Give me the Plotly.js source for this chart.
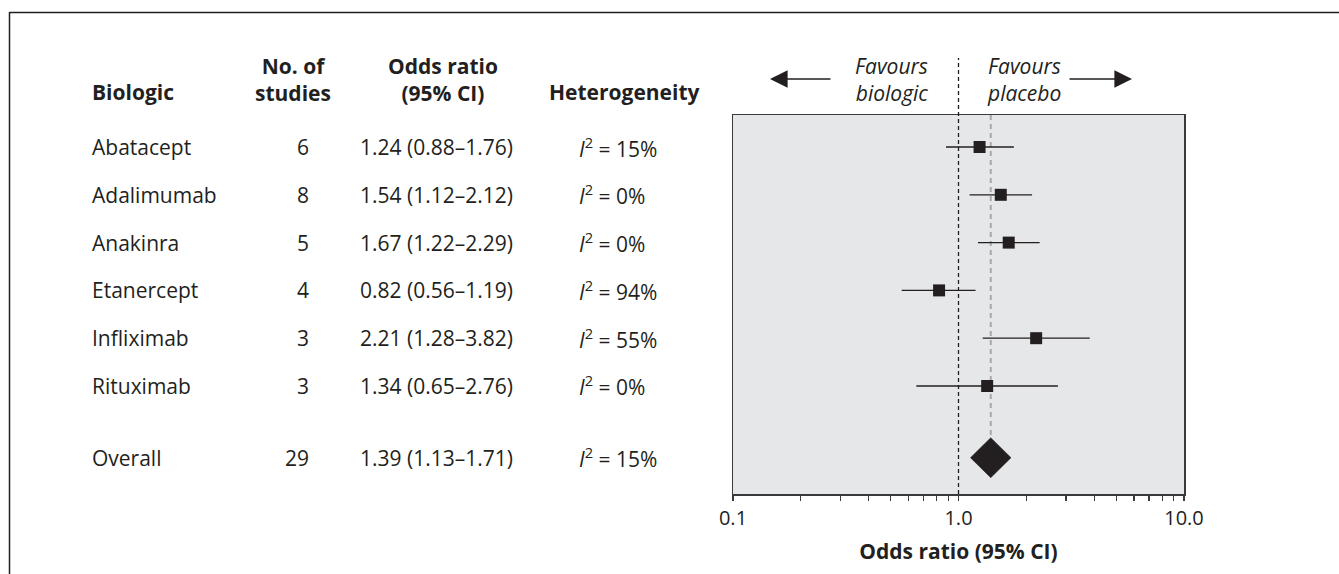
<!DOCTYPE html>
<html>
<head>
<meta charset="utf-8">
<script src="https://cdn.plot.ly/plotly-3.0.1.min.js"></script>
<style>html,body{margin:0;padding:0;background:#fff;}#chart{width:1339px;height:574px;}</style>
</head>
<body>
<div id="chart"></div>
<script>
// ---- data ----
const biologics = ['Abatacept','Adalimumab','Anakinra','Etanercept','Infliximab','Rituximab'];
const studies = [6, 8, 5, 4, 3, 3];
const oddsRatio = [1.24, 1.54, 1.67, 0.82, 2.21, 1.34];
const ciLow = [0.88, 1.12, 1.22, 0.56, 1.28, 0.65];
const ciHigh = [1.76, 2.12, 2.29, 1.19, 3.82, 2.76];
const i2 = [15, 0, 0, 94, 55, 0];
const overallName = 'Overall';
const overallStudies = 29;
const overallOR = 1.39;
const overallLow = 1.13;
const overallHigh = 1.71;
const overallI2 = 15;
const majorTicks = [0.1, 1, 10];
const majorTickText = ['0.1', '1.0', '10.0'];
const minorTicks = [0.2,0.3,0.4,0.5,0.6,0.7,0.8,0.9,2,3,4,5,6,7,8,9];

// ---- layout helpers ----
const FIGW = 1339, FIGH = 574;
const L = 733, R = 1184, T = 115, B = 494;
const PW = R - L, PH = B - T;
const px = x => (x - L) / PW;
const py = y => (B - y) / PH;
const rowPos = biologics.map((_, i) => i);
const overallPos = 6.5;
const ROWPX = 47.8;
const xPaper = v => (Math.log10(v) + 1) / 2;
const INK = '#231f20';
const FONT = 'Open Sans, sans-serif';
const FS = 21;

// CI segments
const segX = [], segY = [];
biologics.forEach((_, i) => { segX.push(ciLow[i], ciHigh[i], null); segY.push(rowPos[i], rowPos[i], null); });

const dh = 20 / ROWPX;
const traces = [
  {type:'scatter', mode:'lines', x:segX, y:segY, line:{color:INK, width:1.3}, hoverinfo:'skip', showlegend:false},
  {type:'scatter', mode:'markers', x:oddsRatio, y:rowPos, marker:{symbol:'square', size:12, color:INK}, showlegend:false, name:'Odds ratio'},
  {type:'scatter', mode:'lines', fill:'toself', fillcolor:INK,
   x:[overallLow, overallOR, overallHigh, overallOR, overallLow],
   y:[overallPos, overallPos - dh, overallPos, overallPos + dh, overallPos],
   line:{color:INK, width:0.5}, showlegend:false, name:overallName}
];

const ann = [];
function txt(x, y, text, opts) {
  ann.push(Object.assign({xref:'paper', yref:'paper', x:px(x), y:py(y), text:text, showarrow:false,
    xanchor:'left', yanchor:'middle', font:{family:FONT, size:FS, color:INK}}, opts || {}));
}
// headers
txt(90, 92, '<b>Biologic</b>');
txt(293, 80, '<b>No. of</b><br><b>studies</b>', {xanchor:'center', align:'center'});
txt(443, 79, '<b>Odds ratio</b><br><b>(95% CI)</b>', {xanchor:'center', align:'center'});
txt(624, 92, '<b>Heterogeneity</b>', {xanchor:'center'});
// favours
txt(930, 79, '<i>Favours</i><br><i>biologic</i>', {xanchor:'right', align:'right'});
txt(985, 79, '<i>Favours</i><br><i>placebo</i>', {align:'left'});

function rowText(name, n, or, lo, hi, het, pos) {
  const base = {xref:'paper', yref:'y', y:pos, showarrow:false, yanchor:'middle', font:{family:FONT, size:FS, color:INK}};
  ann.push(Object.assign({}, base, {x:px(90), xanchor:'left', text:name}));
  ann.push(Object.assign({}, base, {x:px(311), xanchor:'right', text:String(n)}));
  ann.push(Object.assign({}, base, {x:px(358), xanchor:'left', text:or.toFixed(2) + ' (' + lo.toFixed(2) + '\u2013' + hi.toFixed(2) + ')'}));
  ann.push(Object.assign({}, base, {x:px(577), xanchor:'left', text:'<i>I</i><sup>2</sup> = ' + het + '%'}));
}
biologics.forEach((b, i) => rowText(b, studies[i], oddsRatio[i], ciLow[i], ciHigh[i], i2[i], rowPos[i]));
rowText(overallName, overallStudies, overallOR, overallLow, overallHigh, overallI2, overallPos);

// arrows
ann.push({xref:'paper', yref:'paper', x:px(770), y:py(79), ax:62, ay:0, text:'', showarrow:true,
  arrowhead:2, arrowsize:2.2, arrowwidth:1.6, arrowcolor:INK});
ann.push({xref:'paper', yref:'paper', x:px(1132), y:py(79), ax:-64, ay:0, text:'', showarrow:true,
  arrowhead:2, arrowsize:2.2, arrowwidth:1.6, arrowcolor:INK});

const shapes = [
  // frame
  {type:'line', xref:'paper', yref:'paper', x0:px(9.5), x1:px(1345), y0:py(12.5), y1:py(12.5), line:{color:INK, width:1.5}},
  {type:'line', xref:'paper', yref:'paper', x0:px(9.5), x1:px(9.5), y0:py(12), y1:py(580), line:{color:INK, width:1.5}},
  // null line
  {type:'line', xref:'paper', yref:'paper', x0:xPaper(1), x1:xPaper(1), y0:0, y1:py(58), line:{color:INK, width:1.3, dash:'4px,3px'}, layer:'above'},
  // overall line
  {type:'line', xref:'paper', yref:'y', x0:xPaper(overallOR), x1:xPaper(overallOR), y0:-0.67, y1:overallPos, line:{color:'#a7a9ac', width:2, dash:'5px,4px'}, layer:'below'}
];

const layout = {
  width:FIGW, height:FIGH,
  margin:{l:L, r:FIGW - R, t:T, b:FIGH - B, pad:0},
  paper_bgcolor:'#ffffff', plot_bgcolor:'#e6e7e8',
  showlegend:false,
  font:{family:FONT, size:FS, color:INK},
  xaxis:{type:'log', range:[-1, 1], showgrid:false, zeroline:false,
    showline:true, mirror:true, linecolor:'#3a3a3a', linewidth:1.5,
    tickmode:'array', tickvals:majorTicks, ticktext:majorTickText,
    ticks:'outside', ticklen:5, tickwidth:1.2, tickcolor:'#3a3a3a',
    tickfont:{family:FONT, size:20, color:INK},
    minor:{tickmode:'array', tickvals:minorTicks, ticks:'outside', ticklen:5, tickwidth:1.2, tickcolor:'#3a3a3a', showgrid:false},
    title:{text:'<b>Odds ratio (95% CI)</b>', font:{family:FONT, size:21, color:INK}, standoff:15},
    fixedrange:true},
  yaxis:{range:[7.26, -0.67], showgrid:false, zeroline:false, showticklabels:false, ticks:'',
    showline:true, mirror:true, linecolor:'#3a3a3a', linewidth:1.5, fixedrange:true},
  annotations:ann, shapes:shapes
};

Plotly.newPlot('chart', traces, layout, {displayModeBar:false, staticPlot:true});
</script>
</body>
</html>
